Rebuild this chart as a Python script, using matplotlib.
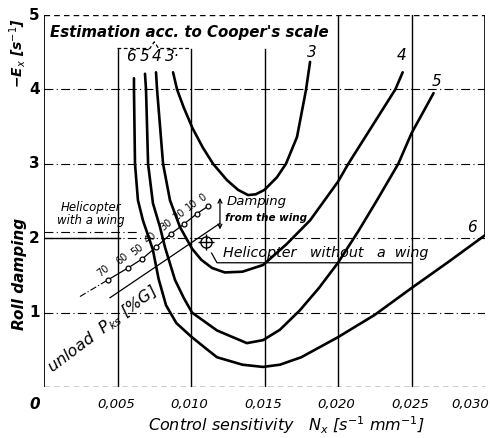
import numpy as np
import matplotlib
matplotlib.use("Agg")
import matplotlib.pyplot as plt

# curves (control sensitivity N_x, roll damping -E_x)
c3_x = [0.00878, 0.00905, 0.0095, 0.0101, 0.0108, 0.0115, 0.01245, 0.0132, 0.01388, 0.0144, 0.0150, 0.01585, 0.01646, 0.01721, 0.01782, 0.0181]
c3_y = [4.23, 4.0, 3.76, 3.48, 3.22, 3.0, 2.78, 2.65, 2.58, 2.59, 2.65, 2.82, 3.0, 3.36, 3.99, 4.37]

c4_x = [0.00762, 0.00769, 0.0081, 0.00857, 0.00925, 0.01007, 0.0107, 0.01143, 0.0123, 0.0135, 0.0149, 0.0165, 0.0181, 0.0200, 0.0207, 0.0239, 0.0244]
c4_y = [4.23, 4.0, 3.0, 2.51, 2.15, 1.86, 1.71, 1.60, 1.54, 1.55, 1.64, 1.92, 2.24, 2.76, 3.0, 4.0, 4.23]

c5_x = [0.00687, 0.00694, 0.00708, 0.00741, 0.00789, 0.00823, 0.00891, 0.0095, 0.01007, 0.01177, 0.0138, 0.0149, 0.01605, 0.0174, 0.0187, 0.0200, 0.0214, 0.02265, 0.0241, 0.0250, 0.0265]
c5_y = [4.21, 4.0, 3.0, 2.47, 2.15, 1.88, 1.44, 1.20, 1.0, 0.76, 0.59, 0.63, 0.77, 1.03, 1.33, 1.67, 2.1, 2.51, 3.0, 3.41, 3.95]

c6_x = [0.00612, 0.00612, 0.00619, 0.00639, 0.00673, 0.0074, 0.0078, 0.0083, 0.0090, 0.0100, 0.0110, 0.01177, 0.0135, 0.0149, 0.01605, 0.0175, 0.0200, 0.0225, 0.0250, 0.0275, 0.0300]
c6_y = [4.15, 4.0, 3.0, 2.51, 2.24, 1.85, 1.45, 1.10, 0.86, 0.68, 0.52, 0.40, 0.30, 0.27, 0.30, 0.40, 0.67, 0.97, 1.33, 1.68, 2.04]

# wing unloading points
unload = ["70", "60", "50", "40", "30", "20", "10", "0"]
wing_x = [0.00435, 0.00571, 0.00667, 0.00762, 0.00864, 0.00952, 0.0104, 0.01116]
wing_y = [1.44, 1.60, 1.72, 1.88, 2.06, 2.19, 2.33, 2.43]

# helicopter without a wing
nowing_x, nowing_y = 0.0110, 1.95

xticks = [0.005, 0.010, 0.015, 0.020, 0.025, 0.030]
xticklabels = ["0,005", "0,010", "0,015", "0,020", "0,025", "0,030"]
yticks = [1, 2, 3, 4, 5]

fig = plt.figure(figsize=(4.9, 4.38), dpi=100)
ax = fig.add_axes([0.0898, 0.1164, 0.90, 0.8493])
ax.set_xlim(0, 0.030)
ax.set_ylim(0, 5)
for s in ax.spines.values():
    s.set_visible(False)

# frame and grid
ax.axvline(0, color="k", lw=1.3)
ax.axhline(0, color="k", lw=1.0, ls=(0, (4, 3)))
ax.axhline(5, color="k", lw=1.0, ls=(0, (4, 3)))
ax.axvline(0.030, ymin=c6_y[-1] / 5, ymax=1, color="k", lw=1.2)
for yv in [1, 2, 3, 4]:
    ax.axhline(yv, color="k", lw=0.8, ls=(0, (8, 3, 1, 3)))
for xv in [0.005, 0.010, 0.015]:
    ax.axvline(xv, ymax=4.55 / 5, color="k", lw=1.0)
for xv in [0.020, 0.025]:
    ax.axvline(xv, color="k", lw=1.0)

# brace over curve labels 6 5 4 3
ax.plot([0.005, 0.0072, 0.0075, 0.0078, 0.010], [4.55, 4.55, 4.64, 4.55, 4.55],
        color="k", lw=0.9, ls=(0, (3, 2)))

for cx, cy in [(c3_x, c3_y), (c4_x, c4_y), (c5_x, c5_y), (c6_x, c6_y)]:
    ax.plot(cx, cy, color="k", lw=1.9, solid_capstyle="round", solid_joinstyle="round")

lab = dict(fontsize=11, style="italic", ha="center", va="center")
ax.text(0.00592, 4.44, "6", **lab)
ax.text(0.00687, 4.44, "5", **lab)
ax.text(0.00769, 4.44, "4", **lab)
ax.text(0.00875, 4.44, "3·", **lab)
ax.text(0.01823, 4.50, "3", **lab)
ax.text(0.02435, 4.46, "4", **lab)
ax.text(0.02673, 4.10, "5", **lab)
ax.text(0.02912, 2.14, "6", **lab)

ax.text(0.00988, 4.77, "Estimation acc. to Cooper's scale", fontsize=10.8,
        weight="bold", style="italic", ha="center", va="center")

# wing points
ext_x = [wing_x[0] - 1.4 * (wing_x[1] - wing_x[0]), wing_x[0]]
ext_y = [wing_y[0] - 1.4 * (wing_y[1] - wing_y[0]), wing_y[0]]
ax.plot(ext_x, ext_y, color="k", lw=0.8, ls=(0, (6, 2, 1, 2)))
ax.plot(wing_x, wing_y, color="k", lw=0.9, marker="o", ms=3.5, mfc="white", mec="k", mew=0.9)
for t, xv, yv in zip(unload, wing_x, wing_y):
    ax.text(xv - 0.00035, yv + 0.12, t, fontsize=7, rotation=38, ha="center", va="center")

# parallel line to the dimension arrow
ax.plot([0.00449, 0.01197], [1.20, 2.20], color="k", lw=0.9)
ax.annotate("", xy=(0.01197, 2.58), xytext=(0.01197, 2.08),
            arrowprops=dict(arrowstyle="<->", lw=0.9, color="k", mutation_scale=7))

# helicopter without a wing marker
ax.plot(nowing_x, nowing_y, marker="o", ms=8, mfc="none", mec="k", mew=1.0)
ax.plot(nowing_x, nowing_y, marker="+", ms=12, mec="k", mew=1.0)
ax.plot([nowing_x + 0.0004, 0.01177, 0.0250], [nowing_y - 0.15, 1.67, 1.67], color="k", lw=0.9)
ax.text(0.01215, 1.80, "Helicopter   without   a  wing", fontsize=10.3, style="italic",
        ha="left", va="center")

ax.text(0.01240, 2.49, "Damping", fontsize=9.5, style="italic", ha="left", va="center")
ax.text(0.01230, 2.27, "from the wing", fontsize=7.5, style="italic", weight="bold",
        ha="left", va="center")

ax.text(0.00320, 2.33, "Helicopter\nwith a wing", fontsize=8.5, style="italic",
        ha="center", va="center", linespacing=1.0)
ax.plot([0, 0.0064], [2.08, 2.08], color="k", lw=0.8, ls=(0, (8, 3, 1, 3)))
ax.plot([0, 0.0052], [2.0, 2.0], color="k", lw=1.0)

ax.text(0.00400, 0.78, "unload  P$_{ks}$ [%G]", fontsize=11.5, style="italic",
        rotation=37, ha="center", va="center")

# ticks
ax.set_xticks([])
ax.set_yticks([])
for xv, t in zip(xticks, xticklabels):
    xp = xv - 0.0001 if xv < 0.030 else 0.0290
    ax.text(xp, -0.24, t, fontsize=9.5, style="italic", ha="center", va="center")
ax.text(-0.0006, -0.24, "0", fontsize=11, style="italic", weight="bold", ha="center", va="center")
for yv in yticks:
    ax.text(-0.0003, yv, str(yv), fontsize=11, weight="bold", ha="right", va="center")

fig.text(0.036, 0.88, "−E$_x$ [s$^{-1}$]", fontsize=10, style="italic", weight="bold",
         rotation=90, ha="center", va="center")
fig.text(0.040, 0.375, "Roll damping", fontsize=11, style="italic", weight="bold",
         rotation=90, ha="center", va="center")
fig.text(0.585, 0.03, "Control sensitivity   N$_x$ [s$^{-1}$ mm$^{-1}$]", fontsize=11.5,
         style="italic", ha="center", va="center")

fig.savefig("out.png", dpi=100)
